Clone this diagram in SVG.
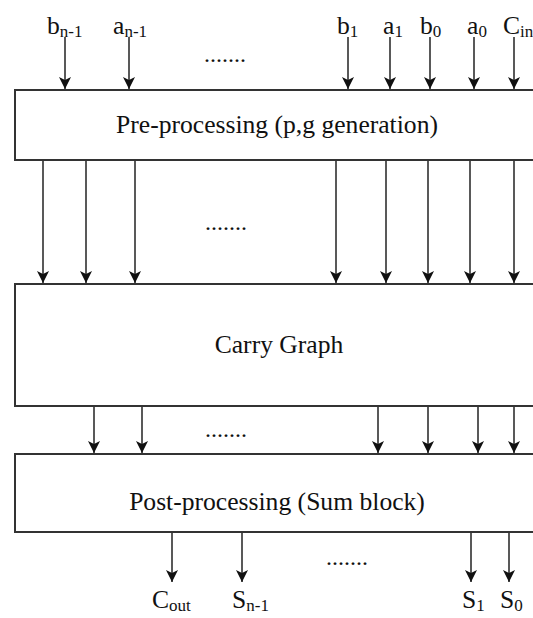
<svg xmlns="http://www.w3.org/2000/svg" width="533" height="618" viewBox="0 0 533 618">
<defs>
<style>
.box{fill:#fff;stroke:#333;stroke-width:2}
.lbl{font-family:"Liberation Serif","Times New Roman",serif;font-size:25.6px;fill:#111}
.ctr{text-anchor:middle}
.sub{font-size:17px}
.dots{font-family:"Liberation Serif","Times New Roman",serif;font-size:24px;fill:#111}
.arr{stroke:#222;stroke-width:1.5;fill:none;marker-end:url(#ah)}
</style>
<marker id="ah" markerUnits="userSpaceOnUse" markerWidth="13" markerHeight="13" refX="12" refY="6" orient="auto">
<path d="M0,0 L12,6 L0,12 L3,6 z" fill="#111"/>
</marker>
</defs>
<rect width="533" height="618" fill="#fff"/>

<g id="pre">
<rect class="box" x="15" y="90" width="530" height="70"/>
<text class="lbl ctr" x="277" y="133">Pre-processing (p,g generation)</text>
</g>
<g id="carry">
<rect class="box" x="15" y="284" width="530" height="122"/>
<text class="lbl ctr" x="279" y="353">Carry Graph</text>
</g>
<g id="post">
<rect class="box" x="15" y="454" width="530" height="78"/>
<text class="lbl ctr" x="277" y="510">Post-processing (Sum block)</text>
</g>

<g id="inputs">
<text class="lbl" x="47" y="34">b<tspan class="sub" dy="3">n-1</tspan></text>
<text class="lbl" x="113" y="34">a<tspan class="sub" dy="3">n-1</tspan></text>
<text class="lbl" x="337" y="34">b<tspan class="sub" dy="3">1</tspan></text>
<text class="lbl" x="383" y="34">a<tspan class="sub" dy="3">1</tspan></text>
<text class="lbl" x="420" y="34">b<tspan class="sub" dy="3">0</tspan></text>
<text class="lbl" x="467" y="34">a<tspan class="sub" dy="3">0</tspan></text>
<text class="lbl" x="503" y="34">C<tspan class="sub" dy="3">in</tspan></text>
<text class="dots" x="204" y="62">.......</text>
</g>

<g id="outputs">
<text class="lbl" x="152" y="608">C<tspan class="sub" dy="3">out</tspan></text>
<text class="lbl" x="232" y="608">S<tspan class="sub" dy="3">n-1</tspan></text>
<text class="lbl" x="462" y="608">S<tspan class="sub" dy="3">1</tspan></text>
<text class="lbl" x="500" y="608">S<tspan class="sub" dy="3">0</tspan></text>
</g>

<g id="mid-dots">
<text class="dots" x="205" y="230">.......</text>
<text class="dots" x="205" y="437">.......</text>
<text class="dots" x="326" y="565">.......</text>
</g>

<g id="connectors">
<line class="arr" x1="65" y1="37" x2="65" y2="89"/>
<line class="arr" x1="129" y1="37" x2="129" y2="89"/>
<line class="arr" x1="348" y1="37" x2="348" y2="89"/>
<line class="arr" x1="390" y1="37" x2="390" y2="89"/>
<line class="arr" x1="430" y1="37" x2="430" y2="89"/>
<line class="arr" x1="474" y1="37" x2="474" y2="89"/>
<line class="arr" x1="514" y1="37" x2="514" y2="89"/>

<line class="arr" x1="43" y1="161" x2="43" y2="283"/>
<line class="arr" x1="86" y1="161" x2="86" y2="283"/>
<line class="arr" x1="135" y1="161" x2="135" y2="283"/>
<line class="arr" x1="336" y1="161" x2="336" y2="283"/>
<line class="arr" x1="386" y1="161" x2="386" y2="283"/>
<line class="arr" x1="428" y1="161" x2="428" y2="283"/>
<line class="arr" x1="470" y1="161" x2="470" y2="283"/>
<line class="arr" x1="514" y1="161" x2="514" y2="283"/>

<line class="arr" x1="94" y1="407" x2="94" y2="453"/>
<line class="arr" x1="142" y1="407" x2="142" y2="453"/>
<line class="arr" x1="378" y1="407" x2="378" y2="453"/>
<line class="arr" x1="428" y1="407" x2="428" y2="453"/>
<line class="arr" x1="478" y1="407" x2="478" y2="453"/>
<line class="arr" x1="514" y1="407" x2="514" y2="453"/>

<line class="arr" x1="172" y1="533" x2="172" y2="582"/>
<line class="arr" x1="242" y1="533" x2="242" y2="582"/>
<line class="arr" x1="471" y1="533" x2="471" y2="582"/>
<line class="arr" x1="509" y1="533" x2="509" y2="582"/>
</g>
</svg>
